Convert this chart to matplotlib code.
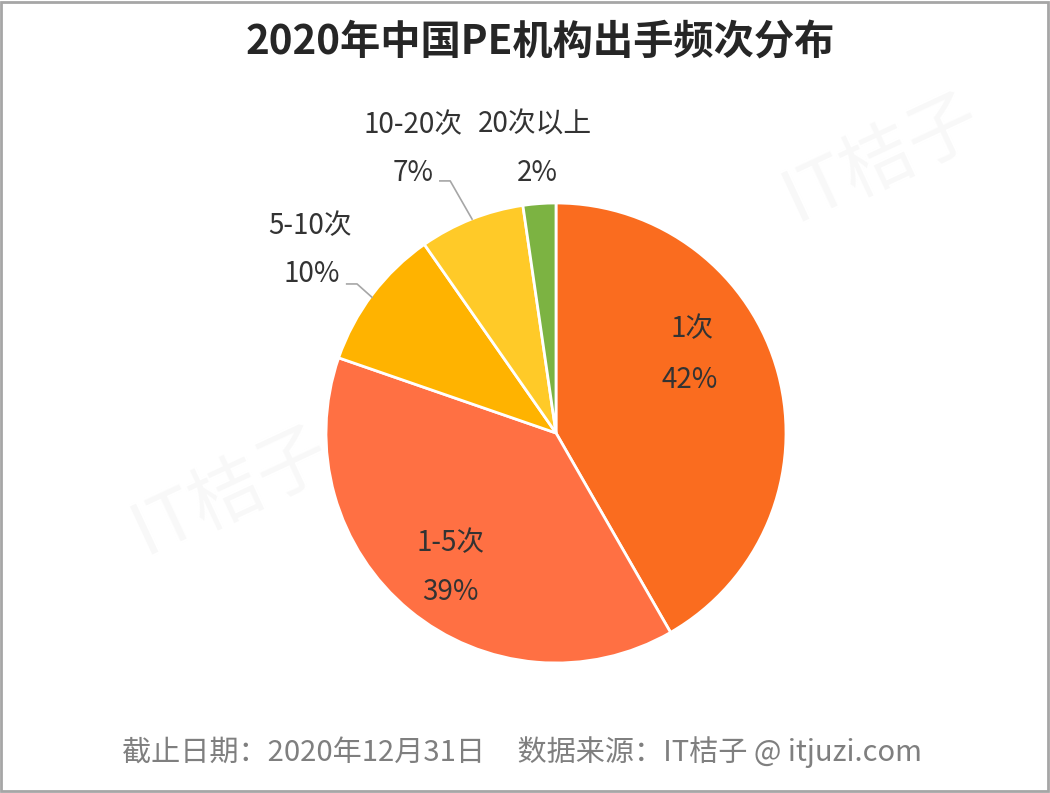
import matplotlib
matplotlib.use('Agg')
import matplotlib.pyplot as plt
from matplotlib.patches import Rectangle

plt.rcParams['font.family'] = ['Noto Sans CJK SC', 'DejaVu Sans']

# data (slice sizes, labels show rounded values)
labels = ['1次', '1-5次', '5-10次', '10-20次', '20次以上']
shares = [41.7, 38.6, 10.0, 7.4, 2.3]
colors = ['#FA6C1F', '#FF7043', '#FFB300', '#FFCA28', '#7CB342']
title = '2020年中国PE机构出手频次分布'
footer = '截止日期：2020年12月31日     数据来源：IT桔子 @ itjuzi.com'

W, H = 1050, 793
fig = plt.figure(figsize=(W / 100, H / 100), dpi=100)

# faint watermarks
for wx, wy in [(0.84, 0.80), (0.22, 0.38)]:
    fig.text(wx, wy, 'IT桔子', fontsize=52, color='#F8F8F8', rotation=25,
             ha='center', va='center', zorder=0)

# pie axes: centre at (556, 433) px, radius 230 px
R = 230
lim = 1.6
cx, cy = 556, H - 433
aw, ah = 2 * lim * R / W, 2 * lim * R / H
ax = fig.add_axes([(cx - lim * R) / W, (cy - lim * R) / H, aw, ah])
wedges, _ = ax.pie(shares, colors=colors, startangle=90, counterclock=False,
                   wedgeprops=dict(edgecolor='white', linewidth=2))
ax.set_xlim(-lim, lim)
ax.set_ylim(-lim, lim)
ax.axis('off')

txt = '#333333'
fs = 20
# label positions (data units) for name and percentage lines
pos = [
    ((0.59, 0.45), (0.58, 0.23)),
    ((-0.46, -0.48), (-0.46, -0.69)),
    ((-1.07, 0.90), (-1.06, 0.69)),
    ((-0.62, 1.34), (-0.62, 1.13)),
    ((-0.09, 1.34), (-0.08, 1.13)),
]
for lab, v, (p1, p2) in zip(labels, shares, pos):
    ax.text(p1[0], p1[1], lab, ha='center', va='center', fontsize=fs, color=txt)
    ax.text(p2[0], p2[1], f'{round(v)}%', ha='center', va='center', fontsize=fs, color=txt)

# leader lines for small slices
ax.plot([-0.91, -0.865, -0.80], [0.648, 0.648, 0.59], color='#A6A6A6', lw=1.2)
ax.plot([-0.505, -0.46, -0.365], [1.096, 1.096, 0.93], color='#A6A6A6', lw=1.2)

fig.text(540 / W, 1 - 42 / H, title, ha='center', va='center', fontsize=29,
         fontweight='bold', color='#262626')
fig.text(522 / W, 1 - 752 / H, footer, ha='center', va='center', fontsize=21,
         color='#7F7F7F')

fig.patches.append(Rectangle((0.001, 0.002), 0.997, 0.995, transform=fig.transFigure,
                             fill=False, edgecolor='#A6A6A6', linewidth=2))

fig.savefig('out.png', dpi=100)
